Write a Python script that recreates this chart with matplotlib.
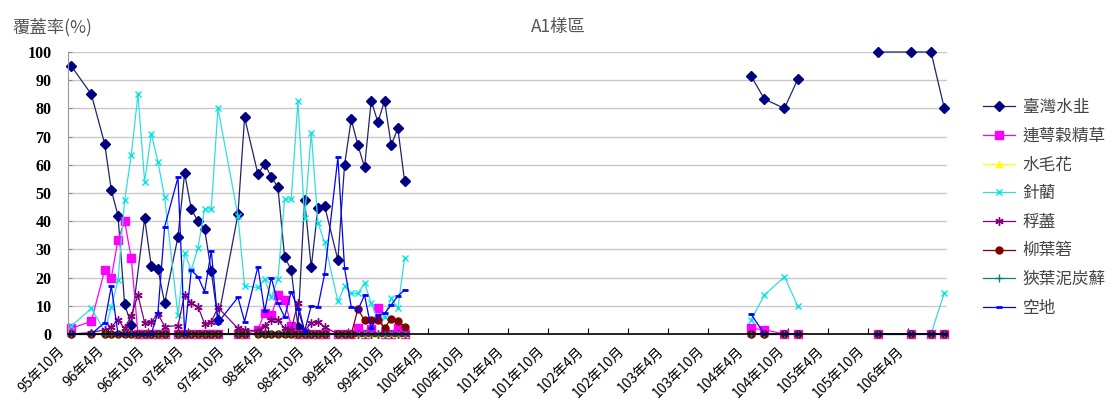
import numpy as np
import matplotlib
matplotlib.use("Agg")
import matplotlib.pyplot as plt
from matplotlib.transforms import ScaledTranslation

plt.rcParams['font.family'] = ['Noto Sans CJK TC', 'DejaVu Sans']

# 調查年月（民國）
survey_dates = [
    "95-10", "96-01", "96-03", "96-04", "96-05", "96-06", "96-07", "96-08", "96-09", "96-10", "96-11", "96-12",
    "97-02", "97-03", "97-04", "97-05", "97-06", "97-07", "97-08",
    "97-11", "97-12",
    "98-02", "98-03", "98-04", "98-05", "98-06", "98-07", "98-08", "98-09", "98-10", "98-11", "98-12",
    "99-02", "99-03", "99-04", "99-05", "99-06", "99-07", "99-08", "99-09", "99-10", "99-11", "99-12",
    "104-04", "104-06", "104-09", "104-11",
    "105-11", "106-04", "106-07", "106-09",
]

species = ["臺灣水韭", "連萼穀精草", "水毛花", "針藺", "稃藎", "柳葉箬", "狹葉泥炭蘚", "空地"]

# 各物種覆蓋率(%)，None 為未記錄
taiwan_isoetes = [95, 85, 67.5, 51, 42, 10.5, 3.3, None, 41, 24, 23, 11,
                  34.5, 57, 44.3, 40, 37.2, 22.2, 5,
                  42.4, 76.8,
                  56.7, 60.3, 55.8, 52, 27.4, 22.7, 2.6, 47.5, 23.6, 44.6, 45.5,
                  26.2, 60, 76.1, 67, 59.1, 82.7, 75.1, 82.7, 67, 72.9, 54.3,
                  91.5, 83.3, 80, 90.3,
                  100, 100, 100, 80]
eriocaulon = [2, 4.5, 22.6, 20, 33.3, 40, 26.8, 0, 0, 0, 0, 0,
              0, 0, 0, 0, 0, 0, 0,
              0, 0,
              1.5, 7.6, 6.6, 13.8, 12.2, 2.7, 0, 0, 0, 0, 0,
              0, 0, 0, 2, 0, 1.8, 9.2, 0, 0, 2.3, 0,
              2, 1.5, 0, 0,
              0, 0, 0, 0]
schoenoplectus = [0] * 51
eleocharis = [2.8, 9.1, 1, 9.5, 19, 47.5, 63.5, 85, 54, 71, 61, 48.5,
              6.7, 28.6, 22.7, 30.4, 44.3, 44.3, 80,
              42, 17,
              16.5, 19.5, 13, 19.5, 47.8, 47.8, 82.6, 41, 71.4, 39.5, 32.5,
              11.6, 16.9, 14.4, 14.4, 18, 10.9, 5, 6.1, 12.7, 9.1, 26.8,
              5, 13.8, 20.3, 10,
              0, 0, 0, 14.6]
ischaemum = [0, 0.5, 1.5, 2.5, 5, 2, 6.5, 13.8, 4, 4.3, 7.2, 2.6,
             3, 14, 11, 9.7, 3.6, 4.3, 9.4,
             2, 1.5,
             1, 3, 5, 5, 2, 1.5, 11, 1, 4, 4.2, 2.5,
             0, 0, 0, 0, 0, 0, 0, 0, 0, 0, 0,
             0, 0, 0, 0,
             0, 0, 0, 0]
isachne = [0] * 32 + [0, 0, 0, 8.8, 4.8, 4.8, 4.8, 2.3, 5.3, 4.5, 2.6] + [0] * 8
sphagnum = [0] * 51
bare_ground = [0, 0, 4, 17, 0, 0, 0, 0, 0, 0, 7.6, 38,
               55.5, 0, 22.6, 20.3, 15, 29.5, 4,
               13, 4.4,
               23.9, 8, 20, 11, 6, 15, 9, 1, 10, 9.6, 21.2,
               62.6, 23.3, 9.7, 8.5, 13.8, 2, 6.7, 7.3, 10.3, 13.5, 15.6,
               7, 0, 0, 0,
               0, 0, 0, 0]

values = [taiwan_isoetes, eriocaulon, schoenoplectus, eleocharis,
          ischaemum, isachne, sphagnum, bare_ground]


def month_pos(s):
    y, m = map(int, s.split("-"))
    return (y - 95) * 12 + (m - 10) + 0.5


x_all = np.array([month_pos(s) for s in survey_dates])

# Excel 預設色的折線樣式
styles = [
    dict(color="#22226e", marker="D", ms=5.5, mfc="#000080", mec="#000080"),
    dict(color="#ff00ff", marker="s", ms=5.5, mfc="#ff00ff", mec="#ff00ff"),
    dict(color="#ffff00", marker="^", ms=5, mfc="#ffff00", mec="#ffff00"),
    dict(color="#33dddd", marker="x", ms=5, mew=1, mec="#00e5e5"),
    dict(color="#800080", marker=(6, 2, 0), ms=6, mew=1, mec="#800080"),
    dict(color="#800000", marker="o", ms=5, mfc="#800000", mec="#800000"),
    dict(color="#008080", marker="+", ms=6, mew=1, mec="#008080"),
    dict(color="#0000ff", marker="_", ms=5, mew=2, mec="#0000ff"),
]

fig = plt.figure(figsize=(11.1, 4.03), dpi=100)
ax = fig.add_axes([68 / 1110, 69 / 403, 879 / 1110, 282 / 403])

for name, vals, st in zip(species, values, styles):
    v = np.array([np.nan if a is None else a for a in vals], dtype=float)
    ok = ~np.isnan(v)
    xs, vs = x_all[ok], v[ok]
    # 停測期間（間隔半年以上）不連線
    brk = np.where(np.diff(xs) > 6)[0] + 1
    xs = np.insert(xs, brk, np.nan)
    vs = np.insert(vs, brk, np.nan)
    ax.plot(xs, vs, lw=0.9, label=name, clip_on=False, **st)

ax.set_ylim(0, 100)
ax.set_yticks(range(0, 101, 10))
ax.set_xlim(0, 131.9)

ax.tick_params(axis="y", direction="in", length=3, pad=12, color="#888888")
ax.tick_params(axis="x", direction="in", length=4, pad=2, color="black")

tick_pos = np.arange(0, 127, 6)
tick_lab = []
for t in tick_pos:
    y = 95 + (9 + t) // 12
    m = (9 + t) % 12 + 1
    tick_lab.append(f"{y}年{m}月")
ax.set_xticks(tick_pos)
ax.set_xticklabels(tick_lab, rotation=45, ha="right", va="center",
                   rotation_mode="anchor", fontsize=10)
offset = ScaledTranslation(-6 / 100, -12 / 100, fig.dpi_scale_trans)
for lab in ax.get_xticklabels():
    lab.set_transform(lab.get_transform() + offset)

for lab in ax.get_yticklabels():
    lab.set_fontfamily(["Liberation Serif"])
    lab.set_fontweight("bold")
    lab.set_fontsize(11.5)

ax.yaxis.grid(True, color="#c8c8c8", lw=1)
ax.set_axisbelow(True)
for s in ("top", "right"):
    ax.spines[s].set_visible(False)
ax.spines["left"].set_color("#999999")
ax.spines["bottom"].set_color("black")
ax.spines["bottom"].set_linewidth(1.2)

fig.text(0.503, 1 - 27 / 403, "A1樣區", ha="center", va="center",
         fontsize=12.5, color="#555555")
fig.text(12 / 1110, 1 - 27 / 403, "覆蓋率(%)", ha="left", va="center",
         fontsize=12.5, color="#555555")

leg = fig.legend(loc="center left", bbox_to_anchor=(975 / 1110, 1 - 208 / 403),
                 frameon=False, fontsize=12, handlelength=1.9,
                 handletextpad=0.45, labelspacing=0.70, borderpad=0)
for t in leg.get_texts():
    t.set_color("#444444")

fig.savefig("out.png", dpi=100)
